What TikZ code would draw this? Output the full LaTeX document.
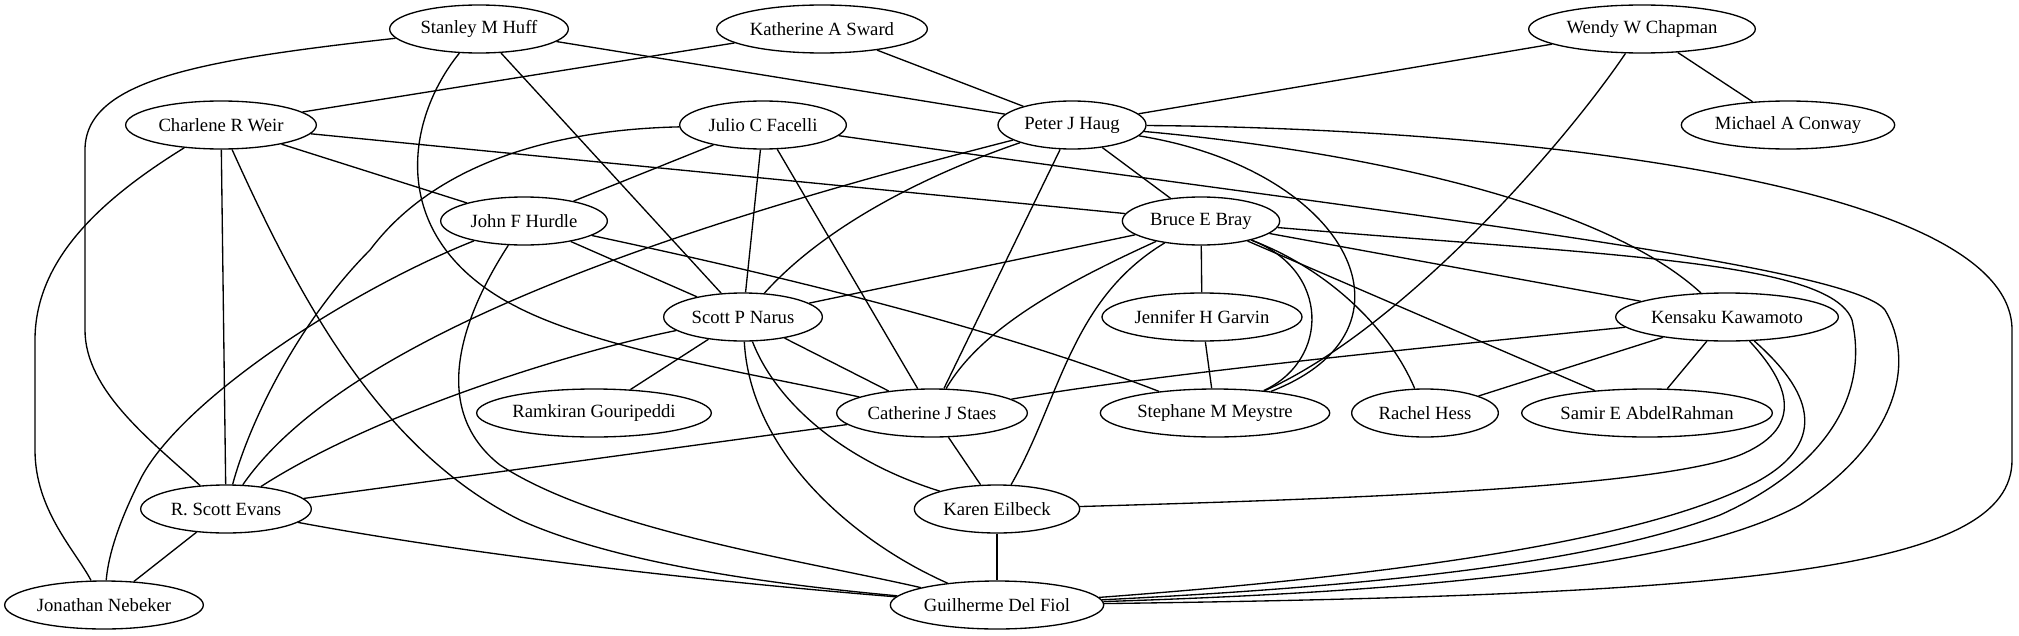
\documentclass[tikz,border=0pt]{standalone}
\usepackage{fontspec}
\setmainfont{Liberation Serif}
\usetikzlibrary{shapes.geometric}
\begin{document}
\begin{tikzpicture}[x=0.75pt,y=-0.75pt,
  person/.style={ellipse,draw,line width=1pt,inner sep=0pt,minimum height=36pt,font=\fontsize{14}{16}\selectfont},
  link/.style={line width=1pt}]
\useasboundingbox (0,0) rectangle (2019,635);
\node[person,minimum width=134pt] (stanley) at (479,29) {Stanley M Huff};
\node[person,minimum width=158pt] (katherine) at (822,29) {Katherine A Sward};
\node[person,minimum width=170pt] (wendy) at (1642,29) {Wendy W Chapman};
\node[person,minimum width=143pt] (charlene) at (221,125) {Charlene R Weir};
\node[person,minimum width=125pt] (julio) at (763,125) {Julio C Facelli};
\node[person,minimum width=111pt] (peter) at (1072,125) {Peter J Haug};
\node[person,minimum width=160pt] (michael) at (1788,125) {Michael A Conway};
\node[person,minimum width=125pt] (john) at (524,221) {John F Hurdle};
\node[person,minimum width=118pt] (bruce) at (1201,221) {Bruce E Bray};
\node[person,minimum width=119pt] (scott) at (743,317) {Scott P Narus};
\node[person,minimum width=150pt] (jennifer) at (1202,317) {Jennifer H Garvin};
\node[person,minimum width=167pt] (kensaku) at (1727,317) {Kensaku Kawamoto};
\node[person,minimum width=176pt] (ramkiran) at (594,413) {Ramkiran Gouripeddi};
\node[person,minimum width=143pt] (catherine) at (932,413) {Catherine J Staes};
\node[person,minimum width=172pt] (stephane) at (1215,413) {Stephane M Meystre};
\node[person,minimum width=110pt] (rachel) at (1425,413) {Rachel Hess};
\node[person,minimum width=188pt] (samir) at (1647,413) {Samir E AbdelRahman};
\node[person,minimum width=128pt] (rscott) at (226,509) {R. Scott Evans};
\node[person,minimum width=124pt] (karen) at (997,509) {Karen Eilbeck};
\node[person,minimum width=149pt] (jonathan) at (104,605) {Jonathan Nebeker};
\node[person,minimum width=160pt] (guilherme) at (997,605) {Guilherme Del Fiol};

% straight connectors
\draw[link] (stanley) -- (peter);
\draw[link] (stanley) -- (scott);
\draw[link] (katherine) -- (charlene);
\draw[link] (katherine) -- (peter);
\draw[link] (wendy) -- (peter);
\draw[link] (wendy) -- (michael);
\draw[link] (charlene) -- (john);
\draw[link] (charlene) -- (bruce);
\draw[link] (charlene) -- (rscott);
\draw[link] (julio) -- (john);
\draw[link] (julio) -- (scott);
\draw[link] (julio) -- (catherine);
\draw[link] (peter) -- (bruce);
\draw[link] (peter) -- (catherine);
\draw[link] (john) -- (scott);
\draw[link] (bruce) -- (scott);
\draw[link] (bruce) -- (jennifer);
\draw[link] (bruce) -- (kensaku);
\draw[link] (bruce) -- (samir);
\draw[link] (scott) -- (ramkiran);
\draw[link] (scott) -- (catherine);
\draw[link] (jennifer) -- (stephane);
\draw[link] (kensaku) -- (rachel);
\draw[link] (kensaku) -- (samir);
\draw[link] (catherine) -- (rscott);
\draw[link] (catherine) -- (karen);
\draw[link] (rscott) -- (jonathan);
\draw[link] (karen) -- (guilherme);

% curved connectors
\draw[link] (stanley) .. controls (200,60) and (85,80) .. (85,150) -- (85,330) .. controls (85,390) and (150,440) .. (rscott);
\draw[link] (stanley) .. controls (405,120) and (385,240) .. (517,307) .. controls (600,350) and (760,375) .. (catherine);
\draw[link] (charlene) .. controls (100,200) and (35,260) .. (35,340) -- (35,450) .. controls (35,510) and (75,550) .. (jonathan);
\draw[link] (charlene) .. controls (300,300) and (380,450) .. (520,520) .. controls (620,565) and (780,585) .. (guilherme);
\draw[link] (julio) .. controls (540,130) and (430,170) .. (370,250) .. controls (300,320) and (250,420) .. (rscott);
\draw[link] (julio) .. controls (1400,215) and (1850,265) .. (1885,310) .. controls (1915,360) and (1900,440) .. (1800,505) .. controls (1680,570) and (1400,592) .. (guilherme);
\draw[link] (peter) .. controls (940,170) and (830,220) .. (scott);
\draw[link] (peter) .. controls (700,220) and (350,330) .. (rscott);
\draw[link] (peter) .. controls (1350,170) and (1430,330) .. (stephane);
\draw[link] (peter) .. controls (1350,150) and (1600,200) .. (kensaku);
\draw[link] (peter) .. controls (1500,128) and (2012,180) .. (2012,330) -- (2012,460) .. controls (2012,570) and (1750,595) .. (guilherme);
\draw[link] (wendy) .. controls (1560,150) and (1400,330) .. (stephane);
\draw[link] (john) .. controls (350,290) and (180,400) .. (140,480) .. controls (115,530) and (108,560) .. (jonathan);
\draw[link] (john) .. controls (460,320) and (430,410) .. (500,465) .. controls (600,530) and (800,560) .. (guilherme);
\draw[link] (john) .. controls (800,280) and (1000,330) .. (stephane);
\draw[link] (bruce) .. controls (1060,285) and (980,330) .. (catherine);
\draw[link] (bruce) .. controls (1070,300) and (1060,400) .. (karen);
\draw[link] (bruce) .. controls (1330,270) and (1330,360) .. (stephane);
\draw[link] (bruce) .. controls (1330,270) and (1390,330) .. (rachel);
\draw[link] (bruce) .. controls (1600,255) and (1830,260) .. (1852,320) .. controls (1870,400) and (1820,470) .. (1720,515) .. controls (1600,560) and (1400,585) .. (guilherme);
\draw[link] (scott) .. controls (580,350) and (380,410) .. (rscott);
\draw[link] (scott) .. controls (775,400) and (840,460) .. (karen);
\draw[link] (scott) .. controls (750,450) and (850,540) .. (guilherme);
\draw[link] (kensaku) .. controls (1400,350) and (1150,375) .. (catherine);
\draw[link] (kensaku) .. controls (1795,390) and (1800,430) .. (1740,455) .. controls (1650,490) and (1300,500) .. (karen);
\draw[link] (kensaku) .. controls (1810,390) and (1830,440) .. (1760,480) .. controls (1650,540) and (1400,575) .. (guilherme);
\draw[link] (rscott) .. controls (500,560) and (750,585) .. (guilherme);
\end{tikzpicture}
\end{document}
